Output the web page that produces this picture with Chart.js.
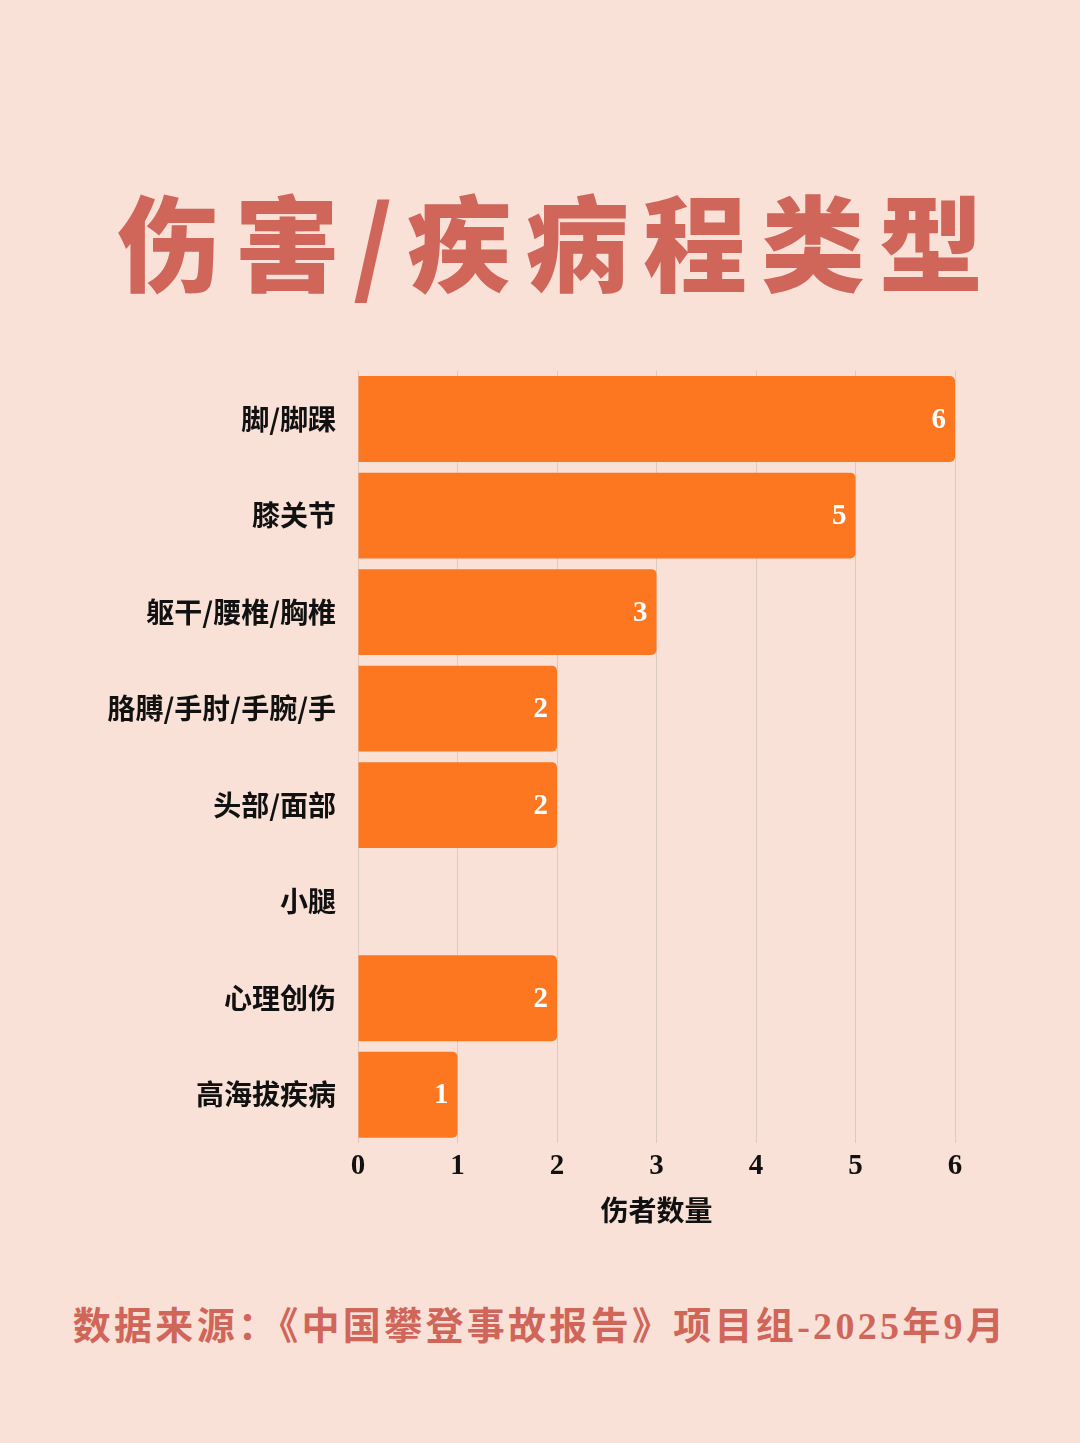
<!DOCTYPE html>
<html>
<head>
<meta charset="utf-8">
<script src="https://cdn.jsdelivr.net/npm/chart.js@4/dist/chart.umd.min.js"></script>
<style>
  html,body{margin:0;padding:0;}
  body{width:1080px;height:1443px;background:#f9e1d8;position:relative;overflow:hidden;}
  #title{position:absolute;left:0;top:174px;width:1080px;text-align:center;
    font-family:"Noto Sans CJK SC";font-weight:900;font-size:104px;line-height:130px;
    color:#d0655a;letter-spacing:14px;padding-left:34px;box-sizing:border-box;}
  #footer{position:absolute;left:0;top:1300px;width:1080px;text-align:center;
    font-family:"Liberation Serif","Noto Sans CJK SC";font-weight:700;font-size:38px;line-height:52px;
    color:#d0655a;letter-spacing:3.3px;padding-left:0px;box-sizing:border-box;}
  #wrap{position:absolute;left:0;top:340px;width:1080px;height:900px;}
</style>
</head>
<body>
<div id="title">伤害/疾病程类型</div>
<div id="wrap"><canvas id="c"></canvas></div>
<div id="footer">数据来源：《中国攀登事故报告》项目组-2025年9月</div>
<script>
const categories = ["脚/脚踝","膝关节","躯干/腰椎/胸椎","胳膊/手肘/手腕/手","头部/面部","小腿","心理创伤","高海拔疾病"];
const injuredCounts = [6,5,3,2,2,0,2,1];
const xTickValues = [0,1,2,3,4,5,6];
const xAxisTitle = "伤者数量";

const valueLabels = {
  id:'valueLabels',
  afterDatasetsDraw(chart){
    const ctx = chart.ctx;
    const meta = chart.getDatasetMeta(0);
    ctx.save();
    ctx.fillStyle = '#ffffff';
    ctx.font = '700 29px "Liberation Serif"';
    ctx.textAlign = 'right';
    ctx.textBaseline = 'middle';
    meta.data.forEach((bar,i)=>{
      const v = injuredCounts[i];
      if(!v) return;
      ctx.fillText(String(v), bar.x - 9, bar.y + 1);
    });
    ctx.restore();
  }
};

new Chart(document.getElementById('c'),{
  type:'bar',
  data:{labels:categories,datasets:[{
    data:injuredCounts,
    backgroundColor:'#fd7720',
    borderRadius:5,
    borderSkipped:'start',
    barPercentage:0.89,
    categoryPercentage:1.0
  }]},
  options:{
    indexAxis:'y',
    responsive:true,
    maintainAspectRatio:false,
    animation:false,
    layout:{padding:{top:22,right:125,left:0,bottom:0}},
    plugins:{legend:{display:false},tooltip:{enabled:false}},
    scales:{
      x:{
        min:0,max:6,
        afterBuildTicks(scale){scale.ticks = xTickValues.map(v=>({value:v}));},
        grid:{color:'#dccbc3',lineWidth:1,drawTicks:false},
        border:{display:false},
        ticks:{color:'#111',font:{family:'"Liberation Serif"',weight:'700',size:29},padding:6},
        title:{display:true,text:xAxisTitle,color:'#111',
          font:{family:'"Liberation Serif","Noto Sans CJK SC"',weight:'700',size:28},padding:{top:4,bottom:9}},
        afterFit(scale){scale.height = 97;}
      },
      y:{
        grid:{display:false},
        border:{display:false},
        ticks:{color:'#111',font:{family:'"Noto Sans CJK SC"',weight:'700',size:28},padding:14},
        afterFit(scale){scale.width = 358;}
      }
    }
  },
  plugins:[valueLabels]
});
</script>
</body>
</html>
